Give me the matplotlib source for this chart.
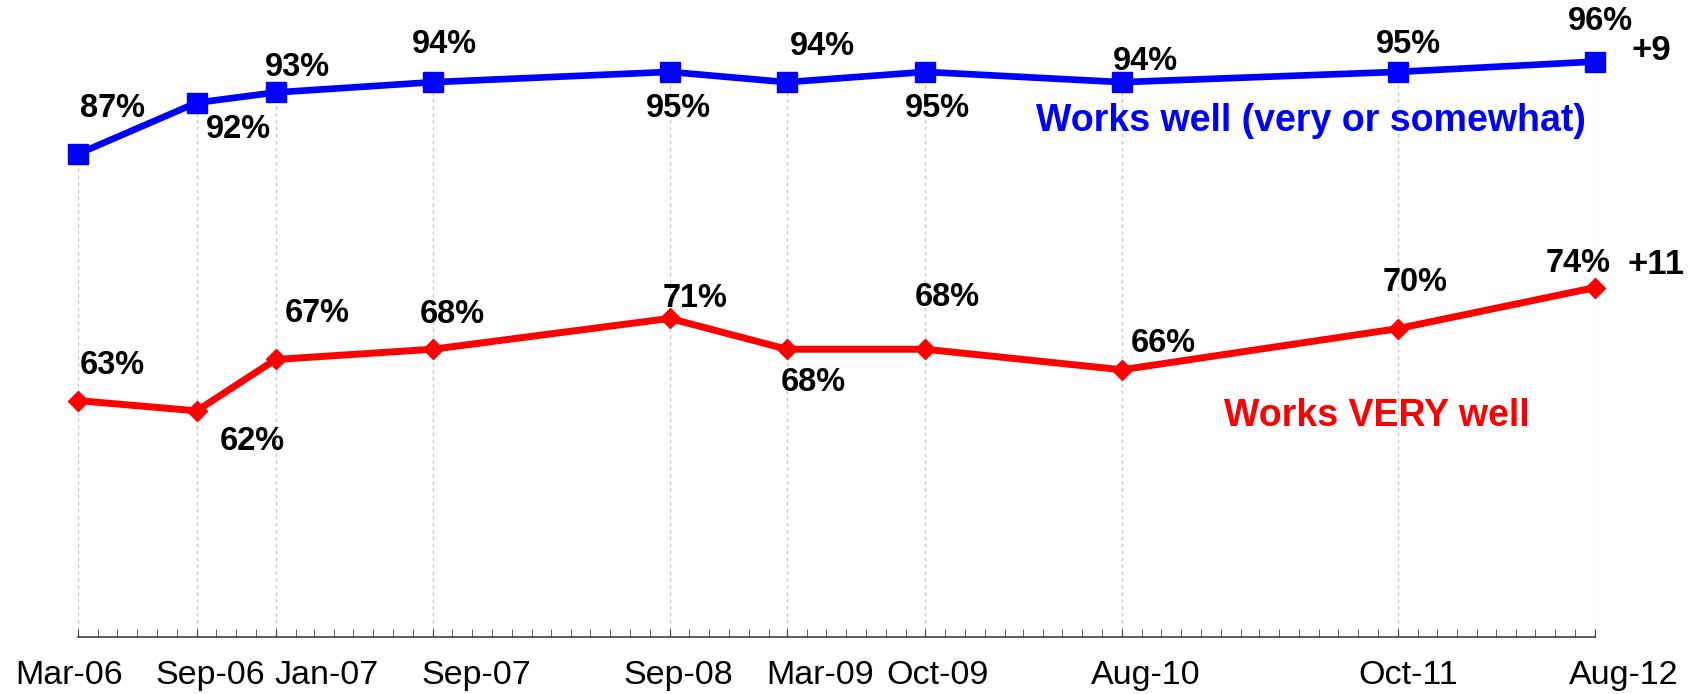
import datetime as dt
import matplotlib
matplotlib.use("Agg")
import matplotlib.pyplot as plt
import matplotlib.dates as mdates
import matplotlib.transforms as mtransforms

plt.rcParams['font.family'] = ['Liberation Sans', 'DejaVu Sans']

# Survey waves and results (%)
waves = ['Mar-06', 'Sep-06', 'Jan-07', 'Sep-07', 'Sep-08',
         'Mar-09', 'Oct-09', 'Aug-10', 'Oct-11', 'Aug-12']
dates = [dt.datetime.strptime(w, '%b-%y') for w in waves]
works_well = [87, 92, 93, 94, 95, 94, 95, 94, 95, 96]
works_very_well = [63, 62, 67, 68, 71, 68, 68, 66, 70, 74]
change_well = '+9'
change_very = '+11'

# label offsets in points (layout only)
blue_off = [(25, 33), (30, -19), (16, 18), (8, 27), (6, -26),
            (26, 26), (9, -26), (17, 15), (8, 20), (4, 29)]
red_off = [(25, 25), (40, -22), (30, 33), (14, 25), (18, 14),
           (19, -24), (16, 37), (30, 19), (13, 33), (-12, 17)]
tick_shift = [-6, 10, 37, 31, 6, 24, 9, 17, 8, 21]

fig = plt.figure(figsize=(16.92, 6.94), dpi=100)
ax = fig.add_axes([0.0459, 0.0824, 0.8967, 0.9176])

# drop lines
ax.vlines(dates, 40, works_well, colors='#c8c8c8', linestyles=(0, (2.5, 2.5)),
          linewidth=1, zorder=1)

ax.plot(dates, works_well, color='#0000ff', lw=4.8, marker='s', ms=14,
        zorder=3, clip_on=False)
ax.plot(dates, works_very_well, color='#ff0000', lw=5, marker='D', ms=10,
        zorder=3, clip_on=False)

for d, v, o in zip(dates, works_well, blue_off):
    ax.annotate(f'{v}%', (d, v), xytext=o, textcoords='offset points',
                ha='center', va='center', fontsize=23.5, fontweight='bold')
for d, v, o in zip(dates, works_very_well, red_off):
    ax.annotate(f'{v}%', (d, v), xytext=o, textcoords='offset points',
                ha='center', va='center', fontsize=23.5, fontweight='bold')

ax.text(0.813, 0.81, 'Works well (very or somewhat)', transform=ax.transAxes,
        ha='center', va='center', fontsize=27, fontweight='bold', color='#0000ff')
ax.text(0.856, 0.347, 'Works VERY well', transform=ax.transAxes,
        ha='center', va='center', fontsize=27, fontweight='bold', color='#ff0000')
ax.text(1.037, 0.92, change_well, transform=ax.transAxes, ha='center',
        va='center', fontsize=25, fontweight='bold', clip_on=False)
ax.text(1.04, 0.585, change_very, transform=ax.transAxes, ha='center',
        va='center', fontsize=25, fontweight='bold', clip_on=False)

ax.set_xlim(dates[0], dates[-1])
ax.set_ylim(40, 102)
ax.set_yticks([])
for s in ['left', 'right', 'top']:
    ax.spines[s].set_visible(False)
ax.spines['bottom'].set_color('#404040')
ax.spines['bottom'].set_linewidth(1.2)

ax.set_xticks(dates)
ax.set_xticklabels(waves, fontsize=24.5)
ax.xaxis.set_minor_locator(mdates.MonthLocator())
ax.tick_params(axis='x', which='both', direction='in', length=6,
               color='#404040', pad=17)
for lab, sh in zip(ax.get_xticklabels(), tick_shift):
    lab.set_transform(lab.get_transform() +
                      mtransforms.ScaledTranslation(sh / 72, 0, fig.dpi_scale_trans))

fig.savefig('out.png', dpi=100)
